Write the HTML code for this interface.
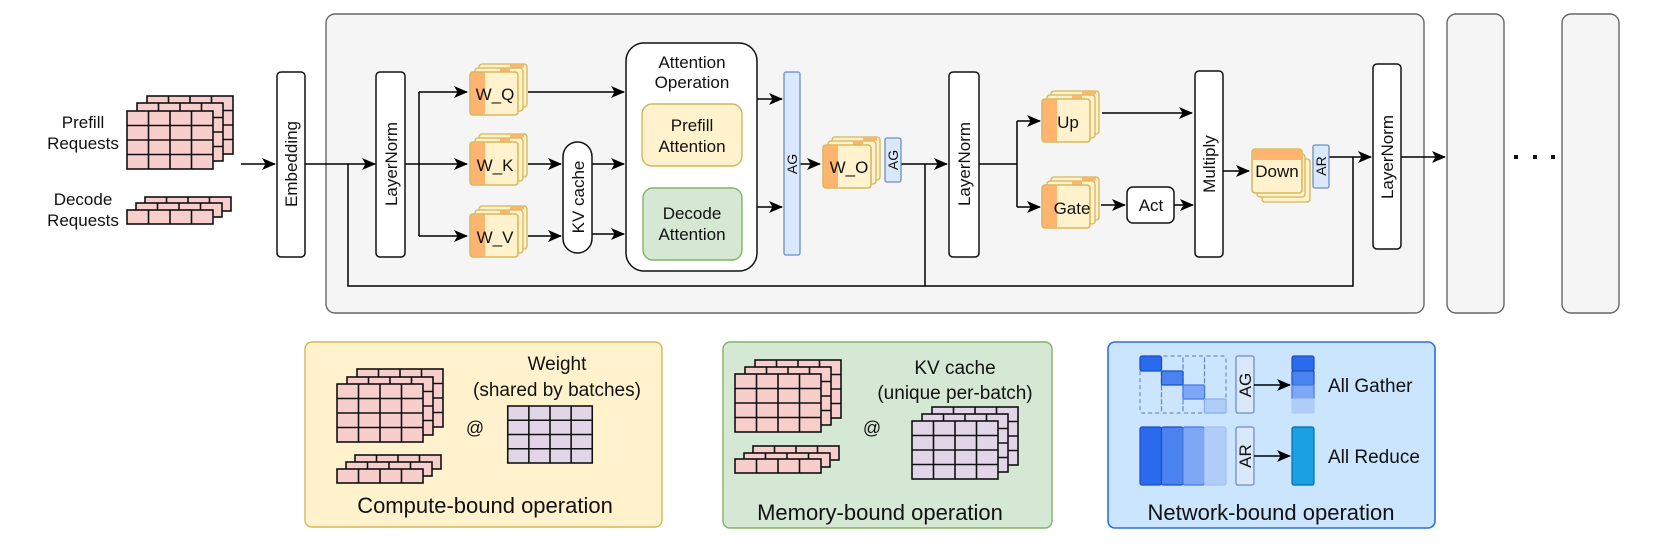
<!DOCTYPE html>
<html><head><meta charset="utf-8"><style>
html,body{margin:0;padding:0;background:#fff;}
svg{display:block;}
text{font-family:"Liberation Sans",sans-serif;fill:#111;}
</style></head><body>
<svg width="1661" height="548" viewBox="0 0 1661 548" xmlns="http://www.w3.org/2000/svg">
<defs>
<marker id="ah" markerWidth="14" markerHeight="12" refX="13" refY="6" orient="auto" markerUnits="userSpaceOnUse">
<path d="M0,0 L14,6 L0,12 L3.5,6 z" fill="#000"/>
</marker>
<symbol id="g44" viewBox="0 0 86 58" overflow="visible">
<rect x="0" y="0" width="86" height="58" fill="currentColor" stroke="#111" stroke-width="1.6"/>
<path d="M21.5,0V58M43,0V58M64.5,0V58M0,14.5H86M0,29H86M0,43.5H86" stroke="#111" stroke-width="1.6"/>
</symbol>
<symbol id="r14" viewBox="0 0 86 14" overflow="visible">
<rect x="0" y="0" width="86" height="14" fill="currentColor" stroke="#111" stroke-width="1.6"/>
<path d="M21.5,0V14M43,0V14M64.5,0V14" stroke="#111" stroke-width="1.6"/>
</symbol>
<symbol id="wst" viewBox="0 0 58 52" overflow="visible">
<rect x="9" y="0" width="48" height="43" rx="3" fill="#fff2cc" stroke="#d6b656" stroke-width="1.3"/>
<rect x="40" y="0.6" width="14" height="3" fill="#ffb570"/>
<rect x="5" y="4" width="48" height="43" rx="3" fill="#fff2cc" stroke="#d6b656" stroke-width="1.3"/>
<rect x="30" y="4.6" width="10" height="3" fill="#ffb570"/>
<rect x="0" y="8" width="48" height="43" rx="3" fill="#fff2cc" stroke="#d6b656" stroke-width="1.3"/>
<path d="M3,8.6 H15 V50.4 H3 A2.4,2.4 0 0 1 0.6,48 V11 A2.4,2.4 0 0 1 3,8.6z" fill="#ffb570"/>
<rect x="0" y="8" width="48" height="43" rx="3" fill="none" stroke="#d6b656" stroke-width="1.3"/>
</symbol>
</defs>

<rect x="326" y="14" width="1098" height="299" rx="9" fill="#f5f5f5" stroke="#666" stroke-width="1.4"/>
<rect x="1447" y="14" width="57" height="299" rx="9" fill="#f5f5f5" stroke="#666" stroke-width="1.4"/>
<rect x="1562" y="14" width="57" height="299" rx="9" fill="#f5f5f5" stroke="#666" stroke-width="1.4"/>
<rect x="1514" y="155" width="4" height="4" fill="#111"/>
<rect x="1533" y="155" width="4" height="4" fill="#111"/>
<rect x="1551" y="155" width="4" height="4" fill="#111"/>

<g font-size="17" text-anchor="middle">
<text x="83" y="128">Prefill</text><text x="83" y="149">Requests</text>
<text x="83" y="205">Decode</text><text x="83" y="226">Requests</text>
</g>
<use href="#g44" x="147" y="96" width="86" height="58" color="#f8cecc"/>
<use href="#g44" x="137" y="103" width="86" height="58" color="#f8cecc"/>
<use href="#g44" x="127" y="111" width="86" height="58" color="#f8cecc"/>
<use href="#r14" x="145" y="197" width="86" height="14" color="#f8cecc"/>
<use href="#r14" x="136" y="203" width="86" height="14" color="#f8cecc"/>
<use href="#r14" x="127" y="210" width="86" height="14" color="#f8cecc"/>

<g stroke="#000" stroke-width="1.5" fill="none">
<path d="M241,164H275" marker-end="url(#ah)"/>
<path d="M305,164H375" marker-end="url(#ah)"/>
<path d="M348,164V286H1353V157"/>
<path d="M405,164H419M419,92V236"/>
<path d="M419,92H467" marker-end="url(#ah)"/>
<path d="M419,164H467" marker-end="url(#ah)"/>
<path d="M419,236H467" marker-end="url(#ah)"/>
<path d="M528,92H624" marker-end="url(#ah)"/>
<path d="M528,164H561" marker-end="url(#ah)"/>
<path d="M528,236H561" marker-end="url(#ah)"/>
<path d="M592,164H624" marker-end="url(#ah)"/>
<path d="M592,234H624" marker-end="url(#ah)"/>
<path d="M757,99H782" marker-end="url(#ah)"/>
<path d="M757,207H782" marker-end="url(#ah)"/>
<path d="M800,164H820" marker-end="url(#ah)"/>
<path d="M901,164H947" marker-end="url(#ah)"/>
<path d="M925,164V286"/>
<path d="M979,164H1017M1017,121V207"/>
<path d="M1017,121H1040" marker-end="url(#ah)"/>
<path d="M1017,207H1040" marker-end="url(#ah)"/>
<path d="M1102,113H1192" marker-end="url(#ah)"/>
<path d="M1101,205H1125" marker-end="url(#ah)"/>
<path d="M1174,205H1193" marker-end="url(#ah)"/>
<path d="M1223,171H1249" marker-end="url(#ah)"/>
<path d="M1329,157H1371" marker-end="url(#ah)"/>
<path d="M1401,157H1445" marker-end="url(#ah)"/>
</g>

<g fill="#fff" stroke="#111" stroke-width="1.5">
<rect x="277" y="72" width="28" height="185" rx="4"/>
<rect x="376" y="72" width="29" height="185" rx="4"/>
<rect x="949" y="72" width="30" height="185" rx="4"/>
<rect x="1195" y="71" width="28" height="186" rx="4"/>
<rect x="1373" y="64" width="28" height="185" rx="4"/>
<rect x="563" y="142" width="29" height="111" rx="14.5"/>
<rect x="626" y="43" width="131" height="228" rx="18"/>
<rect x="1127" y="187" width="47" height="36" rx="6"/>
</g>
<g font-size="17" text-anchor="middle">
<text transform="translate(297,164) rotate(-90)">Embedding</text>
<text transform="translate(397,164) rotate(-90)">LayerNorm</text>
<text transform="translate(970,164) rotate(-90)">LayerNorm</text>
<text transform="translate(1215,164) rotate(-90)">Multiply</text>
<text transform="translate(1393,157) rotate(-90)">LayerNorm</text>
<text transform="translate(584,197) rotate(-90)">KV cache</text>
<text x="1151" y="211">Act</text>
<text x="692" y="68">Attention</text>
<text x="692" y="88">Operation</text>
</g>
<rect x="642" y="104" width="100" height="62" rx="10" fill="#fff2cc" stroke="#d6b656" stroke-width="1.4"/>
<rect x="643" y="188" width="99" height="72" rx="10" fill="#d5e8d4" stroke="#82b366" stroke-width="1.4"/>
<g font-size="17" text-anchor="middle">
<text x="692" y="131">Prefill</text><text x="692" y="152">Attention</text>
<text x="692" y="219">Decode</text><text x="692" y="240">Attention</text>
</g>

<g fill="#dae8fc" stroke="#6c8ebf" stroke-width="1.3">
<rect x="784" y="72" width="16" height="183" rx="2"/>
<rect x="885" y="138" width="16" height="44" rx="2"/>
<rect x="1313" y="145" width="16" height="43" rx="2"/>
</g>
<g font-size="14" text-anchor="middle">
<text transform="translate(797,164) rotate(-90)">AG</text>
<text transform="translate(898,160) rotate(-90)">AG</text>
<text transform="translate(1326,166) rotate(-90)">AR</text>
</g>

<use href="#wst" x="470" y="64" width="58" height="52"/>
<use href="#wst" x="470" y="134" width="58" height="52"/>
<use href="#wst" x="470" y="206" width="58" height="52"/>
<use href="#wst" x="823" y="137" width="58" height="52"/>
<use href="#wst" x="1042" y="91" width="58" height="52"/>
<use href="#wst" x="1042" y="177" width="58" height="52"/>
<g font-size="17" text-anchor="middle">
<text x="495" y="100">W_Q</text>
<text x="495" y="171">W_K</text>
<text x="495" y="243">W_V</text>
<text x="849" y="173">W_O</text>
<text x="1068" y="128">Up</text>
<text x="1072" y="214">Gate</text>
</g>
<rect x="1262" y="159" width="48" height="43" rx="3" fill="#fff2cc" stroke="#d6b656" stroke-width="1.3"/>
<rect x="1257" y="154" width="48" height="43" rx="3" fill="#fff2cc" stroke="#d6b656" stroke-width="1.3"/>
<rect x="1252" y="149" width="50" height="44" rx="3" fill="#fff2cc" stroke="#d6b656" stroke-width="1.3"/>
<path d="M1252.7,160V152A2.5,2.5 0 0 1 1255,149.7H1299A2.5,2.5 0 0 1 1301.3,152V160Z" fill="#ffb570"/>
<rect x="1252" y="149" width="50" height="44" rx="3" fill="none" stroke="#d6b656" stroke-width="1.3"/>
<text x="1277" y="177" font-size="17" text-anchor="middle">Down</text>

<rect x="305" y="342" width="357" height="185" rx="7" fill="#fff2cc" stroke="#d6b656" stroke-width="1.4"/>
<use href="#g44" x="357" y="369" width="86" height="58" color="#f8cecc"/>
<use href="#g44" x="347" y="377" width="86" height="58" color="#f8cecc"/>
<use href="#g44" x="337" y="384" width="86" height="58" color="#f8cecc"/>
<use href="#r14" x="355" y="455" width="86" height="14" color="#f8cecc"/>
<use href="#r14" x="346" y="462" width="86" height="14" color="#f8cecc"/>
<use href="#r14" x="337" y="469" width="86" height="14" color="#f8cecc"/>
<use href="#g44" x="507" y="406" width="86" height="57" color="#e1d5e7"/>
<g text-anchor="middle">
<text x="475" y="434" font-size="18">@</text>
<text x="557" y="370" font-size="19">Weight</text>
<text x="557" y="396" font-size="19">(shared by batches)</text>
<text x="485" y="513" font-size="22">Compute-bound operation</text>
</g>

<rect x="723" y="342" width="329" height="186" rx="7" fill="#d5e8d4" stroke="#82b366" stroke-width="1.4"/>
<use href="#g44" x="755" y="360" width="86" height="58" color="#f8cecc"/>
<use href="#g44" x="745" y="367" width="86" height="58" color="#f8cecc"/>
<use href="#g44" x="735" y="374" width="86" height="58" color="#f8cecc"/>
<use href="#r14" x="753" y="446" width="86" height="14" color="#f8cecc"/>
<use href="#r14" x="744" y="453" width="86" height="14" color="#f8cecc"/>
<use href="#r14" x="735" y="459" width="86" height="14" color="#f8cecc"/>
<use href="#g44" x="932" y="407" width="86" height="58" color="#e1d5e7"/>
<use href="#g44" x="922" y="414" width="86" height="58" color="#e1d5e7"/>
<use href="#g44" x="912" y="421" width="86" height="58" color="#e1d5e7"/>
<g text-anchor="middle">
<text x="872" y="434" font-size="18">@</text>
<text x="955" y="374" font-size="19">KV cache</text>
<text x="955" y="399" font-size="19">(unique per-batch)</text>
<text x="880" y="520" font-size="22">Memory-bound operation</text>
</g>

<rect x="1108" y="342" width="327" height="186" rx="7" fill="#cce5ff" stroke="#2b6fe0" stroke-width="1.6"/>
<g fill="none" stroke="#6c8ebf" stroke-width="1.2" stroke-dasharray="4,3">
<rect x="1140" y="356" width="21.5" height="57" rx="2"/>
<rect x="1161.5" y="356" width="21.5" height="57" rx="2"/>
<rect x="1183" y="356" width="21.5" height="57" rx="2"/>
<rect x="1204.5" y="356" width="21.5" height="57" rx="2"/>
</g>
<g stroke-width="1.2">
<rect x="1140" y="356" width="21.5" height="15" rx="2" fill="#2a6aed" stroke="#1a4fc0"/>
<rect x="1161.5" y="371" width="21.5" height="14" rx="1" fill="#4a82f0" stroke="#1a4fc0"/>
<rect x="1183" y="385" width="21.5" height="14" rx="1" fill="#7ea7f5" stroke="#4a7ae0"/>
<rect x="1204.5" y="399" width="21.5" height="14" rx="1" fill="#b0cdfa" stroke="#8cb0ee"/>
<rect x="1292" y="356" width="22" height="15" rx="2" fill="#2a6aed" stroke="#1a4fc0"/>
<rect x="1292" y="371" width="22" height="14" rx="1" fill="#4a82f0" stroke="#1a4fc0"/>
<rect x="1292" y="385" width="22" height="14" rx="1" fill="#7ea7f5" stroke="#4a7ae0"/>
<rect x="1292" y="399" width="22" height="14" rx="1" fill="#b0cdfa" stroke="#b0cdfa"/>
<rect x="1140" y="427" width="21.5" height="58" rx="2" fill="#2a6aed" stroke="#1a4fc0"/>
<rect x="1161.5" y="427" width="21.5" height="58" rx="2" fill="#4a82f0" stroke="#1a4fc0"/>
<rect x="1183" y="427" width="21.5" height="58" rx="2" fill="#7ea7f5" stroke="#4a7ae0"/>
<rect x="1204.5" y="427" width="21.5" height="58" rx="2" fill="#b0cdfa" stroke="#a0c0f0"/>
<rect x="1292" y="427" width="22" height="58" rx="2" fill="#1ba1e2" stroke="#006eaf"/>
</g>
<g fill="#dae8fc" stroke="#6c8ebf" stroke-width="1.3">
<rect x="1236" y="356" width="18" height="57" rx="2"/>
<rect x="1236" y="427" width="18" height="58" rx="2"/>
</g>
<g stroke="#000" stroke-width="1.5" fill="none">
<path d="M1254,385H1290" marker-end="url(#ah)"/>
<path d="M1254,456H1290" marker-end="url(#ah)"/>
</g>
<g font-size="17" text-anchor="middle">
<text transform="translate(1251,385) rotate(-90)">AG</text>
<text transform="translate(1251,456) rotate(-90)">AR</text>
</g>
<text x="1328" y="392" font-size="19">All Gather</text>
<text x="1328" y="463" font-size="19">All Reduce</text>
<text x="1271" y="520" font-size="22" text-anchor="middle">Network-bound operation</text>
</svg>
</body></html>
